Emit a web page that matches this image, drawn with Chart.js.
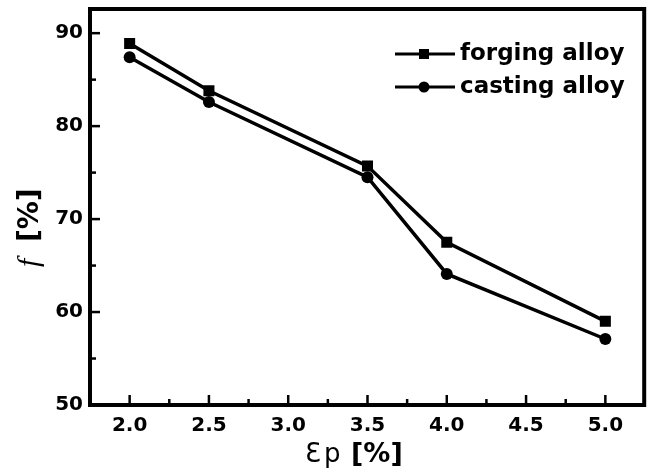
<!DOCTYPE html>
<html>
<head>
<meta charset="utf-8">
<script src="https://cdn.jsdelivr.net/npm/chart.js@4.4.0/dist/chart.umd.min.js"></script>
<style>
  body { margin: 0; background: #fff; }
  #wrap { width: 652px; height: 475px; }
</style>
</head>
<body>
<div id="wrap"><canvas id="c" width="652" height="475"></canvas></div>
<script>
// data
var strain = [2.0, 2.5, 3.5, 4.0, 5.0];
var forging = [88.9, 83.8, 75.7, 67.5, 59.0];
var casting = [87.4, 82.6, 74.5, 64.1, 57.1];
var xTicks = [2.0, 2.5, 3.0, 3.5, 4.0, 4.5, 5.0];
var xMinor = [2.25, 2.75, 3.25, 3.75, 4.25, 4.75];
var yTicks = [50, 60, 70, 80, 90];
var yMinor = [55, 65, 75, 85];
var seriesNames = ['forging alloy', 'casting alloy'];

function pts(ys) {
    return strain.map(function(x, i) { return { x: x, y: ys[i] }; });
}

var sans = '"DejaVu Sans", sans-serif';

// axes box, inward ticks, legend and axis titles
var decor = {
    id: 'decor',
    afterDraw: function(chart) {
        var ctx = chart.ctx;
        var a = chart.chartArea;
        var xs = chart.scales.x, ys = chart.scales.y;
        ctx.save();
        ctx.strokeStyle = '#000';
        ctx.fillStyle = '#000';
        ctx.lineWidth = 2.5;
        xTicks.forEach(function(v) {
            var px = xs.getPixelForValue(v);
            ctx.beginPath(); ctx.moveTo(px, a.bottom); ctx.lineTo(px, a.bottom - 10); ctx.stroke();
        });
        xMinor.forEach(function(v) {
            var px = xs.getPixelForValue(v);
            ctx.beginPath(); ctx.moveTo(px, a.bottom); ctx.lineTo(px, a.bottom - 6); ctx.stroke();
        });
        yTicks.forEach(function(v) {
            var py = ys.getPixelForValue(v);
            ctx.beginPath(); ctx.moveTo(a.left, py); ctx.lineTo(a.left + 10, py); ctx.stroke();
        });
        yMinor.forEach(function(v) {
            var py = ys.getPixelForValue(v);
            ctx.beginPath(); ctx.moveTo(a.left, py); ctx.lineTo(a.left + 6, py); ctx.stroke();
        });
        ctx.lineWidth = 4;
        ctx.strokeRect(a.left, a.top, a.right - a.left, a.bottom - a.top);

        // legend
        var rows = [54, 87];
        chart.data.datasets.forEach(function(ds, i) {
            var y = rows[i];
            ctx.lineWidth = 3;
            ctx.beginPath(); ctx.moveTo(395, y); ctx.lineTo(455, y); ctx.stroke();
            if (ds.pointStyle === 'rect') {
                ctx.fillRect(419, y - 5, 10, 10);
            } else {
                ctx.beginPath(); ctx.arc(424, y, 5.5, 0, Math.PI * 2); ctx.fill();
            }
            ctx.font = 'bold 23px ' + sans;
            ctx.textBaseline = 'middle';
            ctx.textAlign = 'left';
            ctx.fillText(ds.label, 460, y);
        });

        // x title: Ɛp [%]
        ctx.textBaseline = 'alphabetic';
        ctx.textAlign = 'left';
        var by = 462;
        ctx.font = '26px ' + sans;
        ctx.fillText('\u0190', 305, by);
        ctx.fillText('p', 324, by);
        ctx.font = 'bold 27px ' + sans;
        ctx.fillText('[%]', 351, by);

        // y title: f [%]
        ctx.translate(38, 270);
        ctx.rotate(-Math.PI / 2);
        ctx.font = 'italic 30px "Liberation Serif", serif';
        ctx.fillText('f', 3, 0);
        ctx.font = 'bold 28px ' + sans;
        ctx.fillText('[%]', 28, 0);
        ctx.restore();
    }
};

new Chart(document.getElementById('c'), {
    type: 'line',
    data: {
        datasets: [{
            label: seriesNames[0],
            data: pts(forging),
            borderColor: '#000',
            backgroundColor: '#000',
            borderWidth: 3.5,
            pointStyle: 'rect',
            pointRadius: 7.8,
            pointBorderWidth: 0
        }, {
            label: seriesNames[1],
            data: pts(casting),
            borderColor: '#000',
            backgroundColor: '#000',
            borderWidth: 3.5,
            pointStyle: 'circle',
            pointRadius: 6,
            pointBorderWidth: 0
        }]
    },
    options: {
        responsive: false,
        animation: false,
        layout: { padding: { top: 9, right: 5, left: 0, bottom: 0 } },
        plugins: { legend: { display: false }, tooltip: { enabled: false } },
        scales: {
            x: {
                type: 'linear',
                min: 1.75,
                max: 5.245,
                afterBuildTicks: function(s) { s.ticks = xTicks.map(function(v) { return { value: v }; }); },
                afterFit: function(s) { s.height = 70; s.paddingLeft = 0; s.paddingRight = 0; },
                grid: { display: false, drawTicks: false },
                border: { display: false },
                ticks: {
                    color: '#000',
                    font: { family: sans, size: 20, weight: 'bold' },
                    padding: 9,
                    maxRotation: 0,
                    callback: function(v) { return Number(v).toFixed(1); }
                }
            },
            y: {
                min: 50,
                max: 92.6,
                afterBuildTicks: function(s) { s.ticks = yTicks.map(function(v) { return { value: v }; }); },
                afterFit: function(s) { s.width = 90; s.paddingTop = 0; s.paddingBottom = 0; },
                grid: { display: false, drawTicks: false },
                border: { display: false },
                ticks: {
                    color: '#000',
                    font: { family: sans, size: 20, weight: 'bold' },
                    padding: 7
                }
            }
        }
    },
    plugins: [decor]
});
</script>
</body>
</html>
